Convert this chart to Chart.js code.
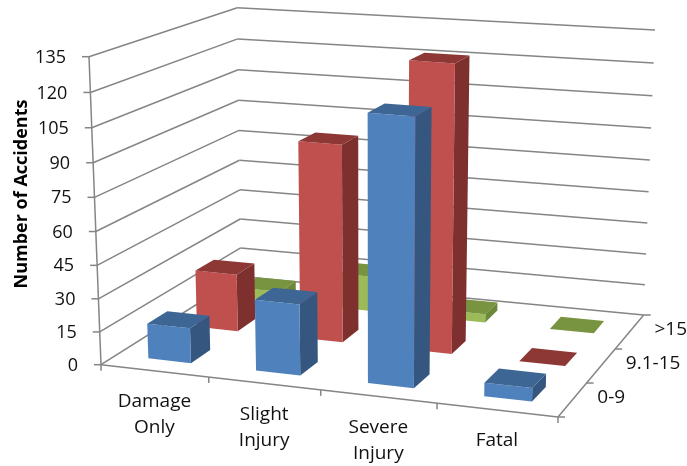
<!DOCTYPE html>
<html>
<head>
<meta charset="utf-8">
<style>
  html, body { margin: 0; padding: 0; background: #fff; }
  #wrap { width: 687px; height: 466px; }
</style>
<script src="https://cdn.jsdelivr.net/npm/chart.js@4"></script>
</head>
<body>
<div id="wrap"><canvas id="accidents" width="687" height="466"></canvas></div>
<script>
const categories = [['Damage', 'Only'], ['Slight', 'Injury'], ['Severe', 'Injury'], ['Fatal']];
const depthLabels = ['0-9', '9.1-15', '>15'];
const values0to9 = [16, 32, 117, 6];
const values9to15 = [27, 91, 130, 0];
const valuesOver15 = [5, 17, 4, 0];
const yTitle = 'Number of Accidents';

const faceColors = [
    { front: '#4f81bd', side: '#34567f', top: '#3e6695' },
    { front: '#c0504d', side: '#7d302e', top: '#8e3836' },
    { front: '#9bbb59', side: '#6c883a', top: '#789440' }
];

// box corners of the plot on screen: floor and the 135 level
const floor = { fl: [101, 364.7], fr: [558, 417], bl: [241, 276.5], br: [643.7, 315] };
const ceil = { fl: [89, 56.7], fr: [566, 91], bl: [237.3, 7.7], br: [655, 30] };
const FONT = '"Open Sans", sans-serif';
const TEXT = '#111';
const GRID = '#858585';

const bend = (a, k) => a / (a + (1 - a) * k);
const lerp = (a, b, t) => a + (b - a) * t;
const mix = (p, q, t) => [lerp(p[0], q[0], t), lerp(p[1], q[1], t)];

// u along categories, d front to back, h up the value axis, all 0..1
function project(u, d, h) {
    const uu = bend(u, 1.08);
    const hh = bend(h, 1.05);
    const onPlane = (q) => mix(mix(q.fl, q.fr, uu), mix(q.bl, q.br, uu), d);
    return mix(onPlane(floor), onPlane(ceil), hh);
}

// middle rows sit a little off a straight run along the floor
function boxPoint(u, d, h) {
    const p = project(u, d, h);
    const bow = d * (1 - d);
    return [p[0] + 20 * bow, p[1] - 12 * bow];
}

function poly(ctx, pts, fill) {
    ctx.beginPath();
    pts.forEach((p, i) => i ? ctx.lineTo(p[0], p[1]) : ctx.moveTo(p[0], p[1]));
    ctx.closePath();
    ctx.fillStyle = fill;
    ctx.fill();
}

function segment(ctx, a, b) {
    ctx.beginPath();
    ctx.moveTo(a[0], a[1]);
    ctx.lineTo(b[0], b[1]);
    ctx.stroke();
}

const box3d = {
    id: 'box3d',
    beforeDatasetDraw: () => false,
    beforeDatasetsDraw(chart) {
        const ctx = chart.ctx;
        const area = chart.chartArea;
        const xs = chart.scales.x;
        const ys = chart.scales.y;
        const toU = (px) => (px - area.left) / area.width;
        const toH = (px) => (area.bottom - px) / area.height;

        ctx.save();
        ctx.strokeStyle = GRID;
        ctx.lineWidth = 1.5;

        // walls and value ticks
        ys.ticks.forEach((tick) => {
            const h = toH(ys.getPixelForValue(tick.value));
            const front = project(0, 0, h);
            const corner = project(0, 1, h);
            const right = project(1, 1, h);
            segment(ctx, front, corner);
            segment(ctx, corner, right);
            segment(ctx, front, [front[0] - 7, front[1]]);
            ctx.font = '18px ' + FONT;
            ctx.fillStyle = TEXT;
            ctx.textAlign = 'right';
            ctx.textBaseline = 'middle';
            ctx.fillText(String(tick.value), front[0] - 23, front[1] + 1);
        });
        segment(ctx, project(0, 0, 0), project(0, 0, 1));
        segment(ctx, project(1, 1, 0), [project(1, 1, 0)[0] + 7, project(1, 1, 0)[1]]);

        // front edge with category ticks and labels
        segment(ctx, project(0, 0, 0), project(1, 0, 0));
        for (let i = 0; i <= categories.length; i++) {
            const p = project(i / categories.length, 0, 0);
            segment(ctx, p, [p[0], p[1] + 6]);
        }
        ctx.font = '19px ' + FONT;
        ctx.fillStyle = TEXT;
        ctx.textAlign = 'center';
        ctx.textBaseline = 'middle';
        xs.getLabels().forEach((label, i) => {
            const p = project(toU(xs.getPixelForValue(i)), 0, 0);
            [].concat(label).forEach((line, n) => {
                ctx.fillText(line, p[0], p[1] + 31 + n * 26);
            });
        });

        // right edge with depth ticks and labels
        segment(ctx, project(1, 0, 0), project(1, 1, 0));
        ctx.textAlign = 'left';
        depthLabels.forEach((label, i) => {
            const edge = project(1, i / depthLabels.length, 0);
            segment(ctx, edge, [edge[0] + 7, edge[1]]);
            const p = project(1, (i + 0.5) / depthLabels.length, 0);
            ctx.fillText(label, p[0] + 25, p[1] - 2);
        });

        // boxes: back row first, left to right inside a row
        const rows = depthLabels.length;
        const slab = 0.4 / rows;
        for (let row = rows - 1; row >= 0; row--) {
            const d0 = (row + 0.3) / rows;
            const d1 = d0 + slab;
            const c = faceColors[row];
            chart.getDatasetMeta(row).data.forEach((bar) => {
                const u0 = toU(bar.x - bar.width / 2);
                const u1 = toU(bar.x + bar.width / 2);
                const h = toH(bar.y);
                if (h > 0) {
                    poly(ctx, [boxPoint(u1, d0, 0), boxPoint(u1, d1, 0), boxPoint(u1, d1, h), boxPoint(u1, d0, h)], c.side);
                    poly(ctx, [boxPoint(u0, d0, 0), boxPoint(u1, d0, 0), boxPoint(u1, d0, h), boxPoint(u0, d0, h)], c.front);
                }
                poly(ctx, [boxPoint(u0, d0, h), boxPoint(u1, d0, h), boxPoint(u1, d1, h), boxPoint(u0, d1, h)], c.top);
            });
        }

        // axis title
        ctx.translate(22, 194);
        ctx.rotate(-Math.PI / 2);
        ctx.font = 'bold 18px ' + FONT;
        ctx.fillStyle = '#000';
        ctx.textAlign = 'center';
        ctx.fillText(yTitle, 0, 0);
        ctx.restore();
    }
};

new Chart(document.getElementById('accidents'), {
    type: 'bar',
    data: {
        labels: categories,
        datasets: [
            { label: depthLabels[0], data: values0to9, backgroundColor: faceColors[0].front },
            { label: depthLabels[1], data: values9to15, backgroundColor: faceColors[1].front },
            { label: depthLabels[2], data: valuesOver15, backgroundColor: faceColors[2].front }
        ]
    },
    plugins: [box3d],
    options: {
        responsive: false,
        animation: false,
        grouped: false,
        categoryPercentage: 0.4,
        barPercentage: 1,
        layout: { padding: 0 },
        plugins: { legend: { display: false }, tooltip: { enabled: false } },
        scales: {
            x: { display: false },
            y: { display: false, min: 0, max: 135, ticks: { stepSize: 15 } }
        }
    }
});
</script>
</body>
</html>
